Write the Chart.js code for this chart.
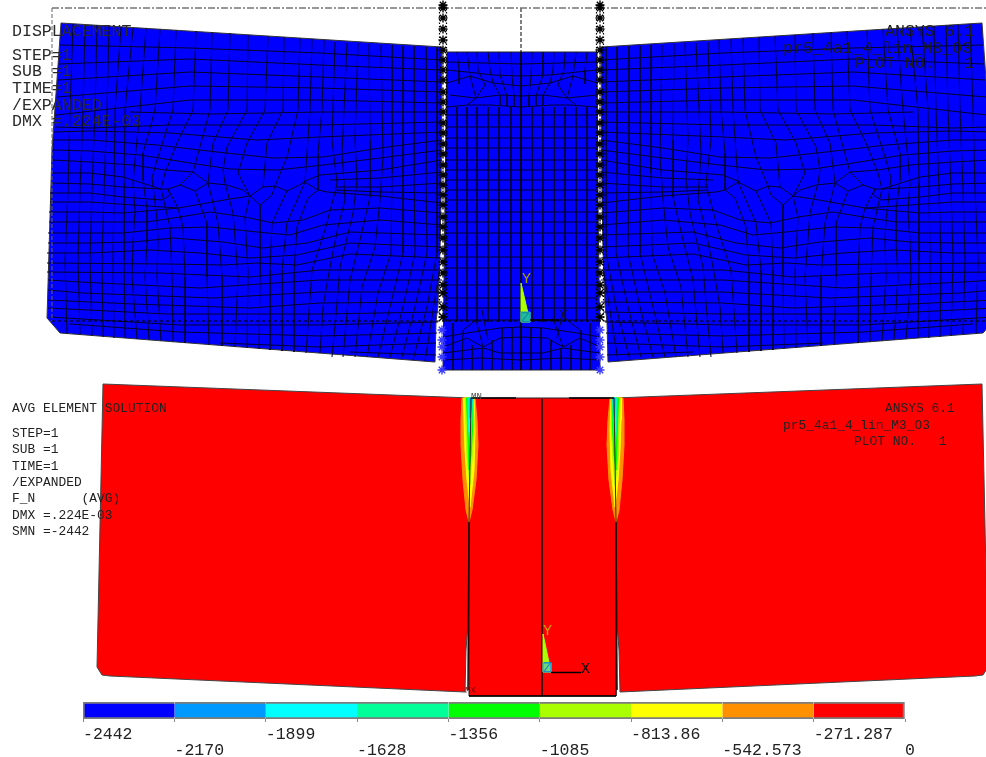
<!DOCTYPE html>
<html>
<head>
<meta charset="utf-8">
<title>ANSYS plot</title>
<script src="https://cdn.jsdelivr.net/npm/chart.js@4/dist/chart.umd.min.js"></script>
<style>
  html, body { margin: 0; padding: 0; background: #fff; overflow: hidden; }
  #wrap { position: relative; width: 986px; height: 757px; }
  canvas { position: absolute; left: 0; }
  #plot { top: 0; }
  #bar { top: 697px; }
</style>
</head>
<body>
<div id="wrap">
  <canvas id="plot" width="986" height="700"></canvas>
  <canvas id="bar" width="986" height="60"></canvas>
</div>
<script>
// contour legend
const levels = [-2442, -2170, -1899, -1628, -1356, -1085, -813.86, -542.573, -271.287, 0];
const levelLabels = ['-2442', '-2170', '-1899', '-1628', '-1356', '-1085', '-813.86', '-542.573', '-271.287', '0'];
const bandColors = ['#0000FF', '#0099FF', '#00FFFF', '#00FF99', '#00FF00', '#AAFF00', '#FFFF00', '#FF9100', '#FF0000'];

// texts
const topInfo = ['DISPLACEMENT', 'STEP=1', 'SUB =1', 'TIME=1', '/EXPANDED', 'DMX =.224E-03'];
const lowInfo = ['AVG ELEMENT SOLUTION', 'STEP=1', 'SUB =1', 'TIME=1', '/EXPANDED', 'F_N      (AVG)', 'DMX =.224E-03', 'SMN =-2442'];
const runInfo = ['ANSYS 6.1', 'pr5_4a1_4_lin_M3_O3', 'PLOT NO.   1'];

// upper plot, deformed mesh outlines (right block is the mirror of the left one)
const topLeftBlock = [[61,23],[442,47],[441,200],[440,250],[438,305],[436,322],[435,362],[60,333],[47,318],[52,150]];
const topCentreBlock = [[447,52],[597,52],[598,200],[600,370],[443,370],[445,200]];

// left block element edges, roughly along the width
const leftRows = [
  [[60,45],[190,48],[320,53],[442,60]],
  [[59,64],[190,59],[320,65],[442,70]],
  [[58,80],[190,72],[320,77],[442,82]],
  [[57,97],[190,86],[320,88],[442,92]],
  [[56,115],[190,100],[320,100],[442,103]],
  [[130,112],[210,114],[320,112],[442,112]],
  [[55,127],[90,128],[170,125],[257,125],[320,125],[442,122]],
  [[54,132],[90,131],[170,133],[257,140],[320,137],[442,132]],
  [[54,140],[90,140],[157,145],[217,152],[273,158],[323,157],[380,148],[442,140]],
  [[53,150],[90,151],[140,155],[190,163],[230,169],[277,170],[323,165],[380,158],[442,150]],
  [[52,160],[90,162],[133,165],[165,170],[193,172]],
  [[303,182],[320,175],[380,170],[442,160]],
  [[330,180],[380,178],[442,172]],
  [[335,187],[380,187],[442,183]],
  [[335,190],[380,192],[442,193]],
  [[51,173],[90,173],[123,177],[161,189],[168,189],[180,185],[193,172],[208,183],[227,185],[243,190],[250,196],[263,187],[275,186],[287,191],[305,182],[318,190],[327,192],[380,196],[442,203]],
  [[51,183],[90,184],[123,187],[161,189]],
  [[50,193],[90,193],[123,197],[162,200],[170,195],[168,189]],
  [[50,202],[90,202],[133,205],[178,208]],
  [[49,212],[90,212],[123,213],[157,210],[178,208],[207,203],[230,199],[250,196]],
  [[49,222],[90,222],[147,222],[180,217],[210,212],[245,217],[273,223],[303,220],[330,210],[380,208],[442,213]],
  [[48,233],[90,233],[123,233],[170,228],[210,227],[257,232],[290,235],[323,225],[380,220],[442,225]],
  [[48,243],[90,243],[133,242],[173,238],[223,242],[263,248],[307,243],[350,232],[442,235]],
  [[47,253],[90,253],[150,250],[200,253],[250,258],[297,255],[350,243],[442,247]],
  [[47,263],[167,264],[223,265],[257,263],[297,265],[350,254],[442,258]],
  [[47,272],[160,273],[250,277],[320,270],[442,270]],
  [[48,280],[80,282],[200,288],[320,280],[442,280]],
  [[48,290],[83,293],[213,298],[320,292],[442,292]],
  [[48,300],[133,304],[250,308],[320,303],[442,302]],
  [[48,308],[167,314],[320,314],[440,312]],
  [[50,317],[180,325],[320,325],[438,322]],
  [[70,324],[180,332],[320,336],[437,333]],
  [[220,343],[320,347],[436,343]],
  [[350,352],[436,355]]
];

// left block element edges, roughly along the height
const leftCols = [
  [[73,24],[70,110],[68,190],[65,260],[67,334]],
  [[85,25],[83,110],[80,190],[78,260],[80,335]],
  [[97,25],[95,110],[92,190],[90,260],[92,336]],
  [[109,26],[107,110],[104,190],[102,260],[103,337]],
  [[121,27],[115,110],[114,190],[113,260],[114,338]],
  [[133,28],[125,110],[124,183],[124,260],[125,338]],
  [[146,28],[140,110],[135,160],[133,183],[135,210],[133,243],[132,277],[137,339]],
  [[160,29],[155,110],[143,153],[143,180],[147,210],[147,243],[145,277],[149,340]],
  [[176,30],[173,110],[157,160],[152,178],[157,220],[158,240],[157,277],[161,341]],
  [[196,31],[193,110],[177,143],[165,173],[161,189],[170,227],[172,277],[173,342]],
  [[212,32],[210,110],[193,172]],
  [[168,189],[178,208],[183,227],[185,277],[185,343]],
  [[230,33],[228,110],[213,143],[208,183],[218,223],[222,277],[222,346]],
  [[180,185],[195,191],[207,223],[207,277],[209,345]],
  [[195,191],[208,183]],
  [[248,35],[247,110],[227,147],[223,170],[225,183],[233,213],[238,277],[235,347]],
  [[268,36],[265,110],[247,143],[238,173],[250,196],[245,217],[248,273],[247,348]],
  [[284,37],[283,110],[267,143],[263,187]],
  [[250,196],[260,205],[272,195],[275,186]],
  [[260,205],[260,277],[259,349]],
  [[300,38],[298,110],[287,157],[275,186]],
  [[287,191],[272,223],[270,270],[270,350]],
  [[312,39],[310,110],[307,153],[305,182],[287,223],[282,270],[282,351]],
  [[324,40],[322,110],[318,153],[318,190],[308,198],[297,227],[294,273],[294,352]],
  [[335,42],[332,140],[337,183],[335,192],[325,230],[312,270],[306,353]],
  [[347,43],[342,153],[345,200],[338,227],[330,267],[323,307],[320,353]],
  [[358,43],[355,140],[357,180],[353,213],[340,267],[337,303],[332,357]],
  [[369,44],[370,140],[370,197],[360,240],[350,280],[343,357]],
  [[381,45],[383,157],[380,200],[375,247],[362,287],[355,357]],
  [[392,45],[392,173],[391,253],[378,293],[367,357]],
  [[403,46],[403,173],[403,253],[390,307],[378,357]],
  [[414,46],[414,173],[415,253],[403,307],[390,357]],
  [[426,47],[426,173],[427,253],[415,307],[402,357]],
  [[437,47],[437,173],[437,253],[427,307],[413,360]],
  [[439,273],[425,361]]
];

// centre block
const centreRowYs = [115,127,138,148,160,170,180,190,200,212,222,233,245,257,268,285,298,308,320];
const centreColXs = [457,467,477,488,499,511,532,543,554,565,576,587];
const centreCurves = [
  [[447,62],[483,63],[521,64],[560,63],[597,62]],
  [[447,70],[467,72],[493,75],[521,76],[550,75],[577,72],[597,70]],
  [[447,83],[470,76],[493,83],[521,86],[550,83],[573,76],[597,83]],
  [[450,95],[475,98],[500,95],[521,96],[543,95],[567,98],[597,95]],
  [[447,107],[467,105],[490,105],[521,107],[553,105],[570,105],[597,107]],
  [[457,52],[459,70],[459,84]],
  [[467,52],[470,76],[476,98],[467,105]],
  [[477,52],[478,70],[485,85],[476,98]],
  [[488,52],[490,70],[493,83],[500,95],[500,105]],
  [[499,52],[500,75],[507,96],[507,106]],
  [[511,52],[512,76],[514,96],[514,107]],
  [[532,52],[531,76],[529,96],[529,107]],
  [[543,52],[543,75],[536,96],[536,106]],
  [[554,52],[553,70],[550,83],[543,95],[543,105]],
  [[565,52],[564,70],[558,85],[567,98]],
  [[576,52],[573,76],[567,98],[576,105]],
  [[587,52],[585,70],[585,84]],
  [[443,337],[467,333],[500,328],[521,327],[543,328],[577,333],[600,337]],
  [[443,347],[467,338],[483,347],[500,338],[521,337],[547,338],[563,347],[580,338],[600,347]],
  [[443,353],[467,350],[483,348],[500,353],[521,353],[543,353],[563,348],[577,350],[600,353]],
  [[443,360],[480,358],[521,360],[563,358],[600,360]],
  [[476,320],[483,347]],
  [[482,310],[488,340]],
  [[463,330],[476,320]],
  [[563,312],[557,338]],
  [[553,318],[563,347]],
  [[567,320],[580,330]],
  [[453,323],[453,370]], [[463,330],[462,370]], [[472,345],[472,370]], [[482,348],[482,370]],
  [[492,340],[492,370]], [[502,328],[502,370]], [[512,328],[512,370]],
  [[531,328],[531,370]], [[541,328],[541,370]], [[551,340],[551,370]], [[561,348],[561,370]],
  [[571,345],[571,370]], [[581,330],[581,370]], [[590,323],[590,370]]
];

// supports along the two joints
const fixedYs = [5,8,18,29,40,50,60,70,80,92,102,112,123,133,144,154,165,175,185,195,205,217,227,238,250,262,273,285,293,307,317];
const freeYs = [330,340,347,357,370];

// lower plot, contour result
const lowLeftBlock = [[103,384],[471,398],[469,522],[468,623],[466,650],[465,692],[110,676],[102,675],[97,667]];
const lowCentreBlock = [[471,398],[614,398],[616,522],[616,696],[469,696],[469,522]];
const contourBands = [
  [[462,398],[475,398],[477,420],[478,445],[476,480],[472,510],[469,522],[466,510],[463,480],[461,445],[461,420]],
  [[463.5,398],[474,398],[475,430],[474,470],[470,507],[467,480],[465,450],[464,420]],
  [[465,398],[473,398],[474,425],[472,460],[470,485],[467,460],[466,430]],
  [[466.5,398],[473,398],[472.5,430],[471,455],[469,470],[468,440]],
  [[468,398],[472.5,398],[471.5,430],[470,447],[468.5,430]],
  [[469,398],[472,398],[471,420],[469.5,432]],
  [[470,398],[472,398],[470.5,418]]
];
const contourColors = ['#FF9100', '#FFFF00', '#AAFF00', '#00FF00', '#00FF99', '#00FFFF', '#0099FF'];

function mirror(points, axis) {
  return points.map(p => [2 * axis - p[0], p[1]]);
}

function toXY(points) {
  return points.map(p => ({ x: p[0], y: p[1] }));
}

function stroke(points, color, width, dash) {
  return {
    data: toXY(points), showLine: true, pointRadius: 0, tension: 0, fill: false,
    borderColor: color, borderWidth: width || 1, borderDash: dash || []
  };
}

function shape(points, color, edge) {
  return {
    data: toXY(points.concat([points[0]])), showLine: true, pointRadius: 0, tension: 0, fill: 'shape',
    backgroundColor: color, borderColor: edge || color, borderWidth: 1
  };
}

function stars(x, ys, color) {
  return {
    data: ys.map(y => ({ x: x, y: y })), showLine: false, pointStyle: 'star',
    pointRadius: 4.5, pointBorderColor: color, pointBorderWidth: 1.4, pointBackgroundColor: color
  };
}

// layers are listed bottom to top, reversed at the end since chart.js draws the first one last
const meshColor = '#00002E';
const topAxis = 521.5;
const lowAxis = 542.5;
const layers = [];

layers.push(shape(topLeftBlock, '#0000FF', '#333'));
layers.push(shape(mirror(topLeftBlock, topAxis), '#0000FF', '#333'));
layers.push(shape(topCentreBlock, '#0000FF', '#222'));

leftRows.concat(leftCols).forEach(line => {
  layers.push(stroke(line, meshColor));
  layers.push(stroke(mirror(line, topAxis), meshColor));
});
centreRowYs.forEach(y => layers.push(stroke([[446, y], [598, y]], meshColor)));
centreColXs.forEach(x => layers.push(stroke([[x, 107], [x, 322]], meshColor)));
centreCurves.forEach(line => layers.push(stroke(line, meshColor)));
layers.push(stroke([[521, 8], [521, 52]], '#000', 1, [4, 2]));
layers.push(stroke([[521, 52], [521, 370]], '#000'));

// display frame
layers.push(stroke([[52, 8], [986, 8]], '#777', 1.5, [7, 2, 2, 2]));
layers.push(stroke([[52, 8], [52, 321]], '#666', 1, [4, 2]));
layers.push(stroke([[52, 321], [986, 321]], '#000', 1, [3, 3]));

// joints
[439.5, 446.5, 596.5, 603.5].forEach(x => layers.push(stroke([[x, 5], [x, 322]], '#000', 1.2, [1.5, 2])));
layers.push(stars(443, fixedYs, '#000'));
layers.push(stars(600, fixedYs, '#000'));
layers.push(stars(442, freeYs, '#3A3AFF'));
layers.push(stars(600, freeYs, '#3A3AFF'));

// triad upper
layers.push(shape([[521, 283], [530, 322], [521, 322]], '#AAFF00'));
layers.push(shape([[521, 312], [530, 312], [530, 322], [521, 322]], '#1FBBA0', '#19A6D0'));
layers.push(stroke([[530, 320], [560, 320]], '#000', 1.5));

// lower plot
layers.push(shape(lowLeftBlock, '#FF0000', '#444'));
layers.push(shape(mirror(lowLeftBlock, lowAxis), '#FF0000', '#444'));
layers.push(shape(lowCentreBlock, '#FF0000', '#222'));
contourBands.forEach((band, i) => {
  layers.push(shape(band, contourColors[i]));
  layers.push(shape(mirror(band, lowAxis), contourColors[i]));
});
layers.push(stroke([[471, 398], [469, 522]], '#3A2A20'));
layers.push(stroke(mirror([[471, 398], [469, 522]], lowAxis), '#3A2A20'));
layers.push(stroke([[469, 522], [468, 690]], '#200000', 1.5));
layers.push(stroke(mirror([[469, 522], [468, 690]], lowAxis), '#200000', 1.5));
layers.push(stroke([[542, 399], [542, 696]], '#000', 1.5));
layers.push(stroke([[469, 696], [616, 696]], '#000', 1.5));
layers.push(stroke([[471, 398], [516, 398]], '#000', 1.5));
layers.push(stroke([[569, 398], [614, 398]], '#000', 1.5));

// triad lower
layers.push(shape([[543, 634], [551, 672], [543, 672]], '#AAFF00'));
layers.push(shape([[543, 663], [551, 663], [551, 672], [543, 672]], '#6FD878', '#22AADD'));
layers.push(stroke([[551, 672.5], [581, 672.5]], '#000', 1.5));

// text goes on last, it is the topmost thing in the ANSYS window
const labelPlugin = {
  id: 'plotLabels',
  afterDatasetsDraw(chart) {
    const ctx = chart.ctx;
    const sx = chart.scales.x;
    const sy = chart.scales.y;
    function put(text, x, y, font, color) {
      ctx.font = font;
      ctx.fillStyle = color;
      ctx.fillText(text, sx.getPixelForValue(x), sy.getPixelForValue(y));
    }
    const big = '16.6px "Liberation Mono"';
    const small = '12.9px "Liberation Mono"';
    ctx.save();
    ctx.textAlign = 'left';
    ctx.textBaseline = 'alphabetic';
    [36, 60, 76, 93, 110, 126].forEach((y, i) => put(topInfo[i], 12, y, big, '#2a2a2a'));
    put(runInfo[0], 885, 36, big, '#1c1c1c');
    put(runInfo[1], 783, 53, big, '#1c1c1c');
    put(runInfo[2], 855, 68, big, '#1c1c1c');
    [412, 437, 453, 470, 486, 502, 519, 535].forEach((y, i) => put(lowInfo[i], 12, y, small, '#222'));
    put(runInfo[0], 885, 412, small, '#222');
    put(runInfo[1], 783, 429, small, '#222');
    put(runInfo[2], 854, 445, small, '#222');
    const axisFont = '15px "Liberation Mono"';
    put('Y', 522, 283, axisFont, '#A8A000');
    put('Z', 521, 322, axisFont, '#14909A');
    put('X', 559, 320, axisFont, '#101040');
    put('Y', 543, 635, axisFont, '#D8A000');
    put('Z', 543, 672, axisFont, '#1E90C0');
    put('X', 581, 673, axisFont, '#000');
    const tinyFont = '9px "Liberation Mono"';
    put('MN', 471, 399, tinyFont, '#444');
    put('MX', 465, 693, tinyFont, '#700');
    ctx.restore();
  }
};

new Chart(document.getElementById('plot').getContext('2d'), {
  type: 'scatter',
  data: { datasets: layers.reverse() },
  plugins: [labelPlugin],
  options: {
    responsive: false,
    animation: false,
    events: [],
    layout: { padding: 0, autoPadding: false },
    plugins: { legend: { display: false }, tooltip: { enabled: false } },
    scales: {
      x: { type: 'linear', min: 0, max: 986, display: false },
      y: { type: 'linear', min: 0, max: 700, reverse: true, display: false }
    }
  }
});

// contour legend as a floating stacked strip
const barSets = bandColors.map((color, i) => ({
  data: [[levels[i], levels[i + 1]]],
  backgroundColor: color,
  borderColor: '#7d7d7d',
  borderSkipped: false,
  borderWidth: { top: 2, bottom: 2, left: i === 0 ? 2 : 0, right: i === bandColors.length - 1 ? 2 : 0 }
}));

new Chart(document.getElementById('bar').getContext('2d'), {
  type: 'bar',
  data: { labels: [''], datasets: barSets },
  options: {
    indexAxis: 'y',
    responsive: false,
    animation: false,
    events: [],
    grouped: false,
    barPercentage: 1,
    categoryPercentage: 1,
    layout: { padding: { left: 83, right: 81, top: 5, bottom: 0 } },
    plugins: { legend: { display: false }, tooltip: { enabled: false } },
    scales: {
      y: { display: false },
      x: {
        type: 'linear',
        min: levels[0],
        max: levels[levels.length - 1],
        afterFit(scale) { scale.height = 38; },
        afterBuildTicks(scale) { scale.ticks = levels.map(v => ({ value: v })); },
        grid: { drawOnChartArea: false, drawTicks: true, tickLength: 3, color: '#888' },
        border: { display: false },
        ticks: {
          autoSkip: false,
          maxRotation: 0,
          minRotation: 0,
          align: 'start',
          padding: 5,
          color: '#222',
          font: { family: '"Liberation Mono"', size: 16.5, lineHeight: '15.5px' },
          callback(value, index) {
            return index % 2 ? ['', levelLabels[index]] : [levelLabels[index], ''];
          }
        }
      }
    }
  }
});
</script>
</body>
</html>
